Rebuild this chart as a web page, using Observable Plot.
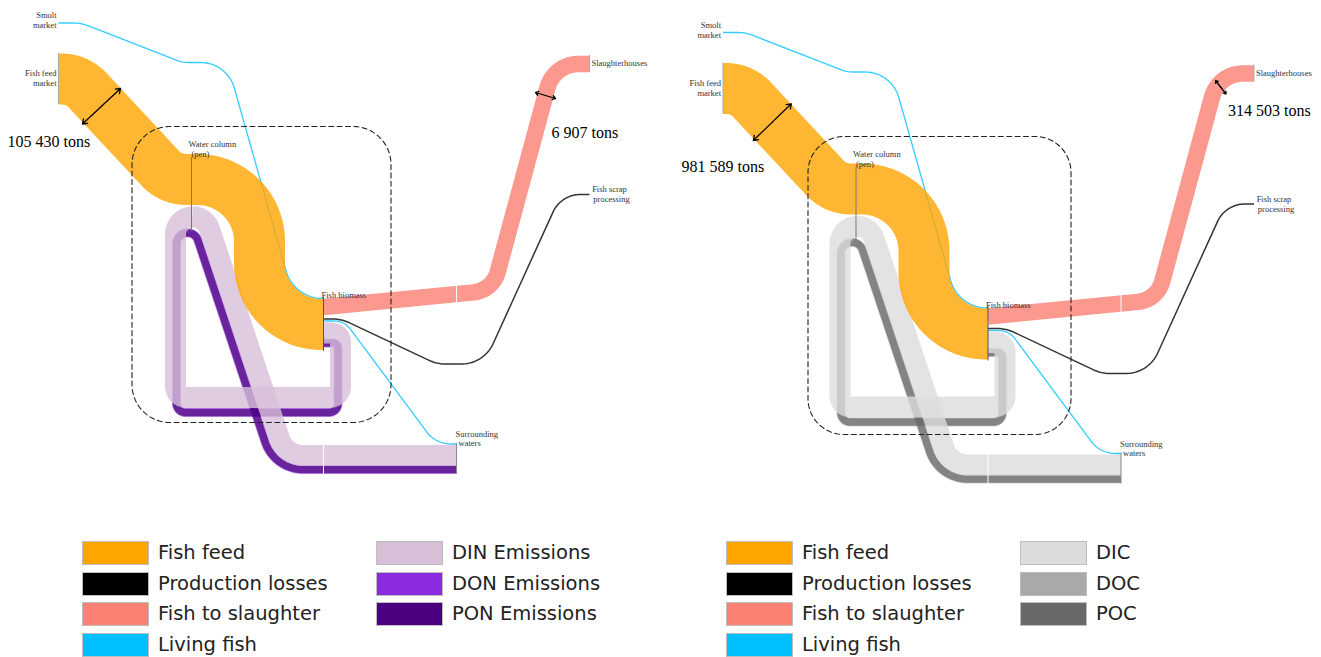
<!DOCTYPE html>
<html>
<head>
<meta charset="utf-8">
<script src="https://cdn.jsdelivr.net/npm/d3@7"></script>
<script src="https://cdn.jsdelivr.net/npm/@observablehq/plot@0.6"></script>
<style>
  html, body { margin: 0; padding: 0; background: #fff; }
  body { width: 1321px; height: 657px; overflow: hidden; position: relative; }
  .panel { position: absolute; top: 0; width: 660px; height: 495px; }
  .panel svg { overflow: visible; }
  .leg { position: absolute; height: 25px; white-space: nowrap; }
  .sw { position: absolute; left: 0; top: 0; width: 65px; height: 22px; border: 1.5px solid #bdbdbd; }
  .lt { position: absolute; left: 76px; top: 0; line-height: 24px; font-family: "DejaVu Sans", sans-serif; font-size: 19.5px; color: #222; }
</style>
</head>
<body>
<div id="left" class="panel" style="left:0px"></div>
<div id="right" class="panel" style="left:660px"></div>
<script>
// ---------- data ----------
const flowNames = ["Fish feed", "Production losses", "Fish to slaughter", "Living fish"];
const flowColors = ["#FFA500", "#000000", "#FA8072", "#00BFFF"];
const emissionNamesN = ["DIN Emissions", "DON Emissions", "PON Emissions"];
const emissionColorsN = ["#D8BFD8", "#8A2BE2", "#4B0082"];
const emissionNamesC = ["DIC", "DOC", "POC"];
const emissionColorsC = ["#DCDCDC", "#A9A9A9", "#696969"];
const feedTons = [105430, 981589];       // left (N), right (C)
const slaughterTons = [6907, 314503];

const nodeLabelText = ["Smolt", "market", "Fish feed", "market", "Water column", "(pen)",
  "Fish biomass", "Slaughterhouses", "Fish scrap", "processing", "Surrounding", "waters"];

// ---------- diagram layout (diagram units) ----------
const nodeLabelPos = [[56,15,"end"],[56,25,"end"],[56,73,"end"],[56,83,"end"],[188,144,"start"],[191,154,"start"],
  [321,295,"start"],[591,63,"start"],[609,189,"middle"],[611,199,"middle"],[455,434,"start"],[458,443,"start"]];
const feedRoute = [[58,78.5],[76.6,78.5,35],[170.3,179,35],[259,179,62],[259,324,62],[323,324]];
const slaughterRoute = [[323,306.5],[492.2,290,28],[553.4,63.5,32],[589,63.5]];
const lossRoute = [[323,318.5],[341,318.5,40],[436.2,363.5,40],[483.4,363.5,35],[560.5,194,30],[589,194]];
const smoltRoute = [[58,22.5],[80.4,22.5,40],[181.7,62,30],[226.6,62,35],[293.4,298,38],[323,298]];
const escapeRoute = [[323,320.5],[343.9,320.5,20],[435.2,443.5,30],[456,443.5]];
const dissolvedRoute = [[323,332.5],[340,332.5,9],[340,397,11],[175,397,11],[175,126.6,17.4],[284.5,455,25],[456,455]];
const particulateRoute = [[323,342.5],[337.5,342.5,5],[337.5,412,9],[176,412,9],[176,175.5,11],[273.8,469,40],[456,469]];
const nodeBars = [[58,53,104,"#aaa"],[191,157,231,"#777"],[323,297,351,"#555"],[456,443,474,"#888"],[589,55,72,"#aaa"]];
const joints = [[456,284,303],[323,443,474]];
const boxes = [[131.5,390.5,126,422,38],[143,406,126.5,424.5,36]];
const feedArrows = [[82,123.5,120,88],[88.3,130.5,126.3,93.8]];
const slaughterArrows = [[535,92,555,98],[550.5,70.5,561,84]];
const feedLabelPos = [[7,141.5],[16.5,156.5]];
const slaughterLabelPos = [[551,132],[563,100.5]];
const panelShift = [[0,0],[4.5,9.5]];

// ---------- geometry helpers ----------
function fillet(route) {
  const P = route.map(d => ({x: d[0], y: d[1], r: d[2] || 0}));
  const pts = [{x: P[0].x, y: P[0].y}];
  for (let i = 1; i < P.length - 1; i++) {
    const a = P[i-1], b = P[i], c = P[i+1];
    let d1x = b.x - a.x, d1y = b.y - a.y; const l1 = Math.hypot(d1x, d1y); d1x /= l1; d1y /= l1;
    let d2x = c.x - b.x, d2y = c.y - b.y; const l2 = Math.hypot(d2x, d2y); d2x /= l2; d2y /= l2;
    const dot = Math.max(-1, Math.min(1, d1x*d2x + d1y*d2y));
    const theta = Math.acos(dot);
    const cross = d1x*d2y - d1y*d2x;
    if (b.r <= 0 || theta < 1e-6) { pts.push({x: b.x, y: b.y}); continue; }
    const t = b.r * Math.tan(theta/2);
    const ax = b.x - d1x*t, ay = b.y - d1y*t;
    const s = cross > 0 ? 1 : -1;
    const nx = s > 0 ? -d1y : d1y, ny = s > 0 ? d1x : -d1x;
    const cx = ax + nx*b.r, cy = ay + ny*b.r;
    const a0 = Math.atan2(ay - cy, ax - cx);
    const steps = Math.max(6, Math.ceil(theta * b.r / 1.5));
    for (let k = 0; k <= steps; k++) {
      const ang = a0 + s*theta*k/steps;
      pts.push({x: cx + b.r*Math.cos(ang), y: cy + b.r*Math.sin(ang)});
    }
  }
  const L = P[P.length-1];
  pts.push({x: L.x, y: L.y});
  return pts;
}
function splitAtTop(pts) {
  let idx = 0;
  pts.forEach((p, i) => { if (p.y < pts[idx].y) idx = i; });
  return [pts.slice(0, idx + 1), pts.slice(idx)];
}
const fmt = n => d3.format(",")(n).replace(/,/g, " ");

function flowLine(pts, color, width, opacity = 0.8) {
  return Plot.line(pts, {x: "x", y: "y", stroke: color, strokeWidth: width, strokeOpacity: opacity,
    strokeLinecap: "butt", strokeLinejoin: "round", curve: "linear"});
}

function panel(k, emissionColors) {
  const [sx, sy] = panelShift[k];
  const din = splitAtTop(fillet(dissolvedRoute));
  const pon = splitAtTop(fillet(particulateRoute));
  const box = boxes[k];
  const boxRoute = [[(box[0]+box[1])/2, box[2]], [box[1], box[2], box[4]], [box[1], box[3], box[4]],
                    [box[0], box[3], box[4]], [box[0], box[2], box[4]], [(box[0]+box[1])/2, box[2]]];
  const labels = nodeLabelText.map((t, i) => ({text: t, x: nodeLabelPos[i][0], y: nodeLabelPos[i][1], anchor: nodeLabelPos[i][2]}));
  const labelMarks = ["start", "end", "middle"].map(a =>
    Plot.text(labels.filter(d => d.anchor === a), {x: "x", y: "y", text: "text", textAnchor: a,
      fontSize: 8.5, fontFamily: "Liberation Serif, serif", fill: "#333"}));
  const bars = nodeBars.map(d => ({x: d[0], y1: d[1], y2: d[2], c: d[3]}));
  const js = joints.map(d => ({x: d[0], y1: d[1], y2: d[2]}));
  // double-headed dimension arrows: two half arrows from the midpoint outward
  const halfArrows = [];
  [feedArrows[k], slaughterArrows[k]].forEach(d => {
    const mx = (d[0] + d[2]) / 2, my = (d[1] + d[3]) / 2;
    halfArrows.push({x1: mx, y1: my, x2: d[0], y2: d[1]});
    halfArrows.push({x1: mx, y1: my, x2: d[2], y2: d[3]});
  });
  const values = [
    {x: feedLabelPos[k][0], y: feedLabelPos[k][1], text: fmt(feedTons[k]) + " tons"},
    {x: slaughterLabelPos[k][0], y: slaughterLabelPos[k][1], text: fmt(slaughterTons[k]) + " tons"}
  ];
  return Plot.plot({
    width: 660, height: 495, margin: 0,
    x: {domain: [-sx, 660 - sx], range: [0, 660], axis: null},
    y: {domain: [-sy, 495 - sy], range: [0, 495], axis: null},
    marks: [
      // emissions loop (particulate, dissolved-organic, dissolved-inorganic)
      flowLine(pon[0], emissionColors[1], 9, 0.55), flowLine(pon[1], emissionColors[1], 9, 0.55),
      flowLine(pon[0], emissionColors[2], 7.5, 0.75), flowLine(pon[1], emissionColors[2], 7.5, 0.75),
      flowLine(din[0], emissionColors[0], 21), flowLine(din[1], emissionColors[0], 21),
      // thin flows
      flowLine(fillet(smoltRoute), flowColors[3], 1.3),
      flowLine(fillet(escapeRoute), flowColors[3], 1.3),
      flowLine(fillet(lossRoute), flowColors[1], 1.5),
      // main ribbons
      flowLine(fillet(feedRoute), flowColors[0], 51, 0.8),
      flowLine(fillet(slaughterRoute), flowColors[2], 16.5, 0.8),
      // node bars and joints
      Plot.ruleX(bars, {x: "x", y1: "y1", y2: "y2", stroke: "c", strokeWidth: 1}),
      Plot.ruleX(js, {x: "x", y1: "y1", y2: "y2", stroke: "#fff", strokeWidth: 1.1, strokeOpacity: 0.9}),
      // dashed system boundary
      Plot.line(fillet(boxRoute), {x: "x", y: "y", stroke: "#222", strokeWidth: 1.1, strokeDasharray: "5,3.4", curve: "linear"}),
      ...labelMarks,
      Plot.arrow(halfArrows, {x1: "x1", y1: "y1", x2: "x2", y2: "y2", stroke: "#000", strokeWidth: 1.3,
        headLength: 6, headAngle: 70, insetEnd: 0, insetStart: 0}),
      Plot.text(values, {x: "x", y: "y", text: "text", textAnchor: "start", fontSize: 16,
        fontFamily: "Liberation Serif, serif", fill: "#000"})
    ]
  });
}

document.getElementById("left").appendChild(panel(0, emissionColorsN));
document.getElementById("right").appendChild(panel(1, emissionColorsC));

// ---------- legends ----------
function legend(names, colors, xCols) {
  names.forEach((name, i) => {
    const col = i < 4 ? 0 : 1, row = i < 4 ? i : i - 4;
    const div = document.createElement("div");
    div.className = "leg";
    div.style.left = xCols[col] + "px";
    div.style.top = (541 + row * 30.7) + "px";
    const sw = document.createElement("div");
    sw.className = "sw"; sw.style.background = colors[i];
    const lt = document.createElement("span");
    lt.className = "lt"; lt.textContent = name;
    div.appendChild(sw); div.appendChild(lt);
    document.body.appendChild(div);
  });
}
legend(flowNames.concat(emissionNamesN), flowColors.concat(emissionColorsN), [82, 376]);
legend(flowNames.concat(emissionNamesC), flowColors.concat(emissionColorsC), [726, 1020]);
</script>
</body>
</html>
